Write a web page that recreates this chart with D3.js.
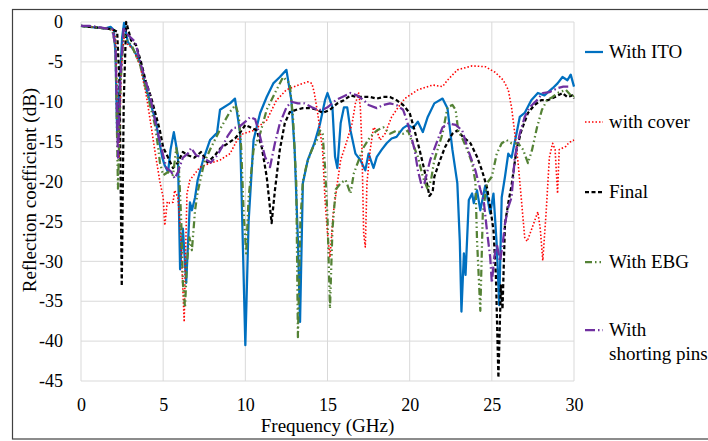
<!DOCTYPE html>
<html><head><meta charset="utf-8">
<script src="https://cdn.jsdelivr.net/npm/d3@7"></script>
<style>body{margin:0;background:#fff;} svg{display:block;} text{font-family:"Liberation Serif","DejaVu Serif",serif;}</style>
</head><body>
<svg id="c" width="708" height="441"></svg>
<script>
// ---- data ----
const xTicks = [0,5,10,15,20,25,30];
const yTicks = [0,-5,-10,-15,-20,-25,-30,-35,-40,-45];
const seriesNames = ["With ITO","with cover","Final","With EBG","With shorting pins"];

const withITO = [[0,-0.5],[0.5,-0.6],[1,-0.7],[1.5,-0.8],[1.8,-0.6],[2.0,-1.0],[2.1,-4],[2.2,-14],[2.35,-8],[2.5,-2],[2.62,-0.1],[2.85,-2.5],[3.2,-3.5],[3.6,-5],[3.9,-7.9],[4.2,-10],[4.56,-12.5],[4.8,-15.4],[4.95,-17],[5.1,-18],[5.3,-18.8],[5.45,-16],[5.65,-13.8],[5.9,-16.8],[6.03,-31],[6.2,-25.9],[6.4,-32.7],[6.63,-22.6],[6.75,-23.6],[6.94,-22],[7.1,-19.8],[7.43,-17.3],[7.85,-14.8],[8.28,-13.9],[8.46,-11],[9.07,-10.2],[9.37,-9.6],[9.68,-13.9],[10.0,-40.5],[10.2,-25],[10.5,-14.8],[10.9,-11.4],[11.3,-9.4],[11.7,-7.7],[12.1,-6.9],[12.5,-6.0],[12.8,-9.8],[13.0,-16],[13.2,-27.4],[13.33,-37.6],[13.5,-20.2],[13.8,-17.3],[14.2,-15.2],[14.55,-12.7],[14.85,-9.8],[15.0,-8.9],[15.3,-10.7],[15.46,-16.9],[15.6,-18.3],[15.8,-12.7],[16.0,-10.7],[16.2,-10.7],[16.4,-13.6],[16.7,-16.5],[17.0,-17.3],[17.3,-18.6],[17.5,-16.5],[17.8,-18.3],[18.0,-16.9],[18.3,-16],[18.6,-15.2],[18.9,-14.6],[19.2,-14.4],[19.6,-13.3],[19.9,-12.9],[20.2,-13.3],[20.5,-12.5],[20.8,-13.8],[21.1,-11.9],[21.5,-10.2],[22.0,-9.6],[22.3,-10.8],[22.6,-16],[22.9,-20.2],[23.05,-27.4],[23.15,-36.3],[23.3,-29],[23.4,-31.7],[23.6,-22.3],[23.8,-21.5],[23.9,-22.7],[24.1,-21.1],[24.3,-23.6],[24.6,-20.5],[24.9,-24],[25.1,-21.5],[25.3,-28],[25.45,-35.5],[25.6,-22],[25.8,-19.4],[26.0,-16.5],[26.2,-17],[26.5,-14],[26.7,-11.9],[27.0,-11.4],[27.4,-9.8],[27.8,-8.9],[28.2,-9.2],[28.7,-8.3],[29.0,-7.7],[29.3,-6.9],[29.6,-7.3],[29.8,-6.6],[30.0,-8.1]];

const withCover = [[0,-0.5],[0.5,-0.6],[1,-0.7],[1.5,-0.8],[1.9,-0.9],[2.1,-2],[2.25,-12],[2.32,-17],[2.45,-6],[2.6,-2],[2.8,-2.7],[3.2,-3.5],[3.6,-5.5],[4.0,-9.5],[4.3,-13.5],[4.56,-17],[4.8,-20],[5.0,-22],[5.1,-25.5],[5.25,-22.5],[5.4,-22.7],[5.6,-22.6],[5.7,-21.1],[5.9,-22],[6.05,-26],[6.15,-31],[6.28,-37.6],[6.35,-30],[6.45,-21.5],[6.63,-19.8],[7.24,-18.2],[7.85,-17.7],[8.46,-17.3],[9.07,-16.5],[9.5,-14.8],[9.86,-14],[10.5,-13.6],[11.3,-12.3],[11.9,-9.8],[12.5,-8.5],[13.1,-8.0],[13.5,-7.7],[13.8,-7.5],[14.05,-7.7],[14.2,-8.9],[14.4,-11.4],[14.7,-16],[14.85,-22.3],[15.0,-26.5],[15.15,-29.5],[15.35,-24],[15.6,-20.2],[15.8,-17.3],[16.2,-14.8],[16.5,-12.7],[16.7,-10.2],[16.9,-8.9],[17.0,-10.7],[17.1,-16],[17.2,-26.5],[17.3,-28.2],[17.4,-20.2],[17.6,-16],[17.8,-13.2],[18.0,-13.6],[18.2,-14.8],[18.5,-14],[18.9,-11.9],[19.3,-10.7],[19.7,-9.6],[20.5,-8.5],[21.4,-7.9],[22.0,-8.1],[22.3,-7.3],[22.9,-6.0],[23.8,-5.5],[24.6,-5.6],[25.2,-6.3],[25.7,-7.3],[26.0,-8.5],[26.2,-10.7],[26.4,-14],[26.6,-17.7],[26.8,-22.3],[27.0,-27],[27.15,-27.5],[27.4,-26.1],[27.8,-23.8],[27.95,-26],[28.1,-29.9],[28.3,-24],[28.5,-17],[28.7,-15.2],[28.85,-16],[29.0,-21.5],[29.1,-16],[29.3,-15.8],[29.5,-15.6],[29.7,-15.1],[30,-14.8]];

const finalDesign = [[0,-0.5],[0.5,-0.6],[1,-0.7],[1.5,-0.8],[1.9,-0.9],[2.2,-1.2],[2.35,-8],[2.48,-33.1],[2.6,-10],[2.75,0],[3.05,-2.3],[3.35,-2.9],[3.65,-5],[3.95,-7.5],[4.26,-9.4],[4.56,-11.7],[4.8,-13.6],[5.0,-15.7],[5.3,-17],[5.6,-18.3],[5.9,-17.6],[6.2,-16.3],[6.5,-16.7],[6.9,-17],[7.3,-16.3],[7.7,-17.6],[8.15,-16.7],[8.5,-15.8],[8.95,-15.2],[9.37,-14.6],[9.7,-13.8],[10.0,-12.9],[10.3,-13.2],[10.7,-13.6],[11.0,-15.7],[11.3,-19.4],[11.6,-25.2],[11.8,-21.1],[12.1,-16],[12.4,-12.7],[12.7,-11.3],[13.1,-11],[13.5,-10.8],[13.9,-10.8],[14.4,-11],[14.7,-11.4],[15.15,-11],[15.6,-10.2],[16.0,-9.8],[16.4,-9.2],[16.8,-9.4],[17.2,-9.4],[17.6,-9.4],[18.0,-9.6],[18.4,-9.4],[18.8,-9.4],[19.2,-9.8],[19.6,-10.4],[20.0,-11.4],[20.3,-13.6],[20.6,-16],[20.9,-18.6],[21.2,-21.8],[21.4,-21.3],[21.5,-19.4],[21.85,-17.3],[22.15,-15.7],[22.6,-14],[22.9,-13.6],[23.25,-14.4],[23.7,-15.2],[24.1,-16.9],[24.4,-18.6],[24.7,-20.7],[24.9,-23.2],[25.1,-26.1],[25.25,-32],[25.4,-44.6],[25.55,-33],[25.65,-36],[25.8,-25.3],[26.0,-22.7],[26.2,-20.5],[26.5,-16],[26.8,-13.6],[27.2,-11.4],[27.6,-10.4],[28.0,-9.8],[28.4,-9.8],[28.85,-9.4],[29.3,-8.9],[29.6,-9.4],[29.9,-9.2],[30,-9.6]];

const withEBG = [[0,-0.5],[0.5,-0.6],[1,-0.7],[1.5,-0.8],[1.9,-1.0],[2.1,-3],[2.25,-20.9],[2.4,-8],[2.6,-1.5],[2.8,-2.3],[3.1,-3],[3.4,-4.5],[3.6,-5.4],[3.95,-8.3],[4.2,-10.4],[4.5,-12.9],[4.7,-15.8],[4.8,-17.6],[5.0,-19.2],[5.3,-18.8],[5.6,-19.2],[5.8,-15.8],[5.95,-18],[6.1,-25],[6.2,-32.7],[6.33,-35.8],[6.45,-30],[6.6,-27],[6.75,-28.6],[6.94,-23.6],[7.1,-21.3],[7.5,-17.6],[7.9,-15.8],[8.5,-13.3],[9.05,-11.3],[9.4,-10.4],[9.6,-11.7],[9.75,-15.8],[9.9,-24],[10.05,-29],[10.2,-22],[10.5,-16],[10.9,-14],[11.3,-11],[11.9,-8.5],[12.3,-6.9],[12.7,-7.7],[12.9,-11.9],[13.1,-20.2],[13.2,-39.5],[13.35,-25],[13.5,-20],[13.75,-17.7],[14.05,-16],[14.35,-14.8],[14.55,-13.6],[14.7,-14],[14.85,-18.2],[15.0,-24.5],[15.15,-35.9],[15.3,-26],[15.5,-21],[15.8,-20.2],[16.1,-19.8],[16.4,-21.5],[16.6,-19],[16.9,-17.3],[17.2,-15.7],[17.6,-14.4],[18.0,-13.6],[18.4,-13.2],[18.8,-14],[19.2,-13.6],[19.6,-14],[19.9,-13.6],[20.1,-14.8],[20.5,-16.9],[20.8,-19.4],[21.1,-21],[21.3,-19.8],[21.5,-17.3],[22.0,-14],[22.3,-10.7],[22.6,-10.4],[22.8,-11],[22.95,-13.6],[23.25,-14.8],[23.5,-16],[23.8,-17.7],[24.0,-20],[24.1,-27.4],[24.3,-36.2],[24.45,-24],[24.7,-20.2],[25.0,-19.4],[25.3,-16.5],[25.6,-15.2],[25.9,-14.8],[26.2,-15.2],[26.6,-15.2],[26.9,-16],[27.2,-17.7],[27.45,-16],[27.75,-13.2],[28.05,-11],[28.35,-9.8],[28.7,-9.4],[29.0,-8.9],[29.5,-8.5],[29.9,-9.4],[30,-9.2]];

const withPins = [[0,-0.5],[0.5,-0.5],[1,-0.6],[1.5,-0.8],[1.9,-0.9],[2.1,-3],[2.25,-17],[2.4,-7],[2.6,-0.7],[2.8,-1.5],[3.3,-2.5],[3.65,-5.4],[3.95,-7.5],[4.2,-9.2],[4.4,-11.3],[4.56,-12.9],[4.8,-15],[5.0,-16.7],[5.2,-18.3],[5.5,-18.8],[5.7,-19.6],[5.9,-18.8],[6.2,-17],[6.5,-16.5],[6.7,-15.8],[7.0,-16.7],[7.4,-17],[7.9,-17.6],[8.3,-16.7],[8.65,-15.4],[8.95,-14.2],[9.25,-13.3],[9.6,-13.2],[10.0,-12.5],[10.3,-11.9],[10.6,-12.2],[10.9,-14.4],[11.2,-16.9],[11.5,-18.2],[11.8,-15.2],[12.1,-12.7],[12.5,-10.7],[12.8,-10],[13.2,-10.2],[13.6,-10.2],[14.05,-10.7],[14.4,-11],[14.7,-11],[15.0,-10.7],[15.5,-9.8],[15.9,-9.4],[16.4,-8.9],[16.8,-9.2],[17.2,-9.8],[17.5,-10.4],[18.0,-10.8],[18.4,-10.4],[18.8,-10.2],[19.2,-10.4],[19.6,-11],[19.85,-12.5],[20.0,-13.6],[20.3,-16],[20.5,-18.6],[20.75,-20.7],[20.9,-20.2],[21.25,-17.3],[21.7,-14.8],[22.0,-13.2],[22.35,-12.7],[22.8,-12.9],[23.2,-13.6],[23.55,-16],[24.0,-18.6],[24.3,-21],[24.5,-22.3],[24.7,-26.1],[24.9,-29.5],[25.0,-32.7],[25.15,-29.5],[25.3,-27.8],[25.5,-30],[25.65,-28],[25.8,-25.3],[26.0,-23.2],[26.2,-22],[26.4,-16.9],[26.7,-14],[27.0,-11.9],[27.3,-10.7],[27.75,-9.8],[28.1,-8.9],[28.5,-8.8],[29.0,-8.3],[29.35,-8.1],[29.65,-8.1]];

// ---- drawing ----
const svg = d3.select("#c");
const FONT = '"Liberation Serif","DejaVu Serif",serif';
const x = d3.scaleLinear().domain([0,30]).range([81,574]);
const y = d3.scaleLinear().domain([-45,0]).range([381,22]);

// outer border
svg.append("rect").attr("x",12.5).attr("y",9.5).attr("width",700).attr("height",429.5)
  .attr("fill","#fff").attr("stroke","#404040").attr("stroke-width",1.2);

// grid
const g = svg.append("g");
g.selectAll("line.v").data(xTicks).join("line")
  .attr("x1",d=>x(d)).attr("x2",d=>x(d)).attr("y1",y(0)).attr("y2",y(-45))
  .attr("stroke","#d9d9d9").attr("stroke-width",1);
g.selectAll("line.h").data(yTicks).join("line")
  .attr("x1",x(0)).attr("x2",x(30)).attr("y1",d=>y(d)).attr("y2",d=>y(d))
  .attr("stroke","#d9d9d9").attr("stroke-width",1);

// axes (labels only, via d3 axis)
const xAxis = svg.append("g").attr("transform",`translate(0,${y(-45)})`)
  .call(d3.axisBottom(x).tickValues(xTicks).tickSize(0).tickPadding(17).tickFormat(d3.format("d")));
const yAxis = svg.append("g").attr("transform",`translate(${x(0)},0)`)
  .call(d3.axisLeft(y).tickValues(yTicks).tickSize(0).tickPadding(18));
[xAxis,yAxis].forEach(a=>{
  a.attr("font-family",null);
  a.select(".domain").remove();
  a.selectAll("text").style("font-family",FONT).style("font-size","18px").attr("fill","#000");
});
yAxis.selectAll("text").text(d=>d===0?"0":"-"+Math.abs(d));

svg.append("text").attr("x",(x(0)+x(30))/2).attr("y",432).attr("text-anchor","middle")
  .style("font-family",FONT).style("font-size","19px").text("Frequency (GHz)");
svg.append("text").attr("transform",`translate(36,190) rotate(-90)`)
  .attr("text-anchor","middle").style("font-family",FONT).style("font-size","19px")
  .text("Reflection coefficient (dB)");

const styles = [
  {data:withITO,   color:"#0070C0", w:2.25, dash:null},
  {data:withCover, color:"#FF0000", w:1.6,  dash:"1.5,2"},
  {data:finalDesign,color:"#000000",w:2.25, dash:"4,2.5"},
  {data:withEBG,   color:"#548235", w:2.25, dash:"7,3,1.5,3,1.5,3"},
  {data:withPins,  color:"#7030A0", w:2.25, dash:"10,3,1.5,3"}
];
const line = d3.line().x(d=>x(d[0])).y(d=>y(d[1]));
const plot = svg.append("g");
styles.forEach(s=>{
  plot.append("path").datum(s.data).attr("d",line).attr("fill","none")
    .attr("stroke",s.color).attr("stroke-width",s.w)
    .attr("stroke-dasharray",s.dash).attr("stroke-linejoin","round");
});

// legend
const legY = [52,122,192,262,330];
const leg = svg.append("g");
styles.forEach((s,i)=>{
  leg.append("line").attr("x1",585).attr("x2",603).attr("y1",legY[i]).attr("y2",legY[i])
    .attr("stroke",s.color).attr("stroke-width",s.w).attr("stroke-dasharray",s.dash);
  const t = leg.append("text").attr("x",609).attr("y",legY[i]+6)
    .style("font-family",FONT).style("font-size","19px").attr("fill","#000");
  if(i===4){
    t.append("tspan").attr("x",609).text("With");
    t.append("tspan").attr("x",609).attr("dy",24).text("shorting pins");
  } else t.text(seriesNames[i]);
});
</script>
</body></html>
